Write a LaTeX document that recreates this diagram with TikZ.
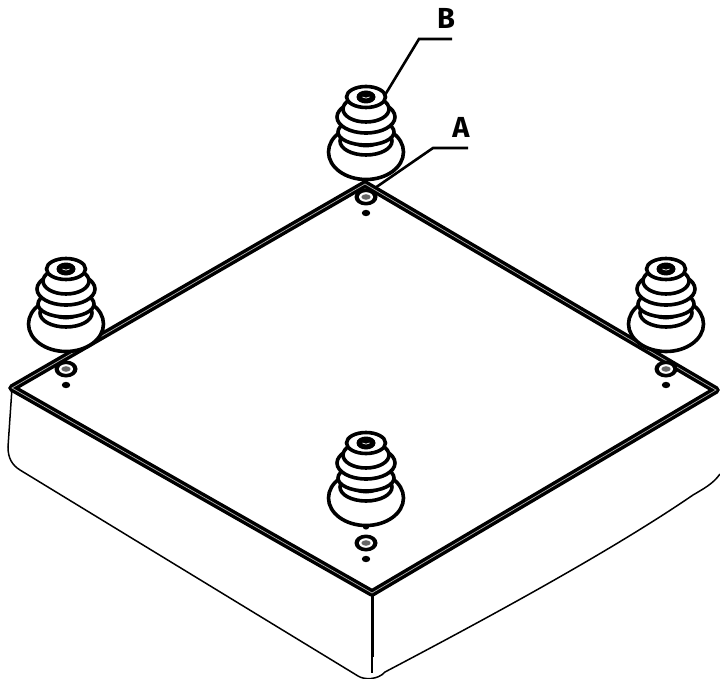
\documentclass[tikz,border=0pt]{standalone}
\usepackage{fontspec}
\setsansfont{Fira Sans}
\usetikzlibrary{positioning}
\tikzset{
	rim/.style={line width=7.6pt, line join=round},
	rimgap/.style={white!70!black, line width=0.7pt},
	outline/.style={black, line width=1.5pt},
	leader/.style={black, line width=2.6pt},
	partlabel/.style={font=\sffamily\bfseries\fontsize{29}{29}\selectfont, inner sep=0pt},
	ringline/.style={black, line width=3.6pt, fill=white},
	foot/.pic={
		\draw[ringline] (0,55) ellipse [x radius=37.5, y radius=27.5];
		\draw[ringline] (0,44) ellipse [x radius=26, y radius=14];
		\draw[ringline] (0,35) ellipse [x radius=28, y radius=13];
		\fill[black] (-20,43) .. controls (-8,49) and (8,49) .. (20,43)
			.. controls (8,53) and (-8,53) .. cycle;
		\draw[ringline] (0,20) ellipse [x radius=29, y radius=16];
		\draw[ringline] (0,12) ellipse [x radius=23, y radius=13];
		\draw[ringline] (0,0) ellipse [x radius=19.5, y radius=10.5];
		\fill[black] (0,0) ellipse [x radius=9.5, y radius=6.5];
		\draw[white, line width=0.7pt] (-3.5,0) .. controls (-1,1.5) and (1,1.5) .. (3.5,0);
		\fill[black] (0,100) ellipse [x radius=11.5, y radius=8.5];
		\fill[white] (0,100) ellipse [x radius=7, y radius=4.8];
		\fill[black!60] (0,100) ellipse [x radius=4.6, y radius=2.8];
		\fill[black] (0,116) ellipse [x radius=4.2, y radius=3.2];
	}
}
\begin{document}
\begin{tikzpicture}[x=1pt, y=-1pt]
	\useasboundingbox (0,0) rectangle (720,679);
	
	\coordinate (top) at (365,184);
	\coordinate (right) at (716,390);
	\coordinate (front) at (372,593);
	\coordinate (left) at (12,388);
	
	% box sides
	\draw[outline] (left) -- (8,447) .. controls (8,458) and (12,465) .. (20,470)
		-- (358,676)
		.. controls (364,680) and (378,680) .. (385,672)
		.. controls (480,622) and (610,552) .. (693,495)
		.. controls (703,489) and (713,484) .. (720,474);
	\draw[black, line width=3pt] (front) -- (372,657);
	\draw[black, line width=1.2pt] (372,657) -- (372,673);
	
	% bottom plate edge
	\draw[rim] (top) -- (right) -- (front) -- (left) -- cycle;
	\draw[rimgap] (top) -- (right) -- (front) -- (left) -- cycle;
	
	\pic at (366,97) {foot};
	\pic at (66,269) {foot};
	\pic at (666,269) {foot};
	\pic at (366,443) {foot};
	\fill[black] (366,527.5) ellipse [x radius=3, y radius=2];
	
	\node[partlabel] (labelB) at (446,18) {B};
	\node[partlabel] (labelA) at (461,127) {A};
	
	\coordinate (kneeB) at (419,39);
	\coordinate (endB) at (452,39);
	\coordinate (tipB) at (385,95);
	\coordinate (kneeA) at (433,148);
	\coordinate (endA) at (468,148);
	\coordinate (tipA) at (375,188);
	\draw[leader] (endB) -- (kneeB) -- (tipB);
	\draw[leader] (endA) -- (kneeA) -- (tipA);
\end{tikzpicture}
\end{document}
